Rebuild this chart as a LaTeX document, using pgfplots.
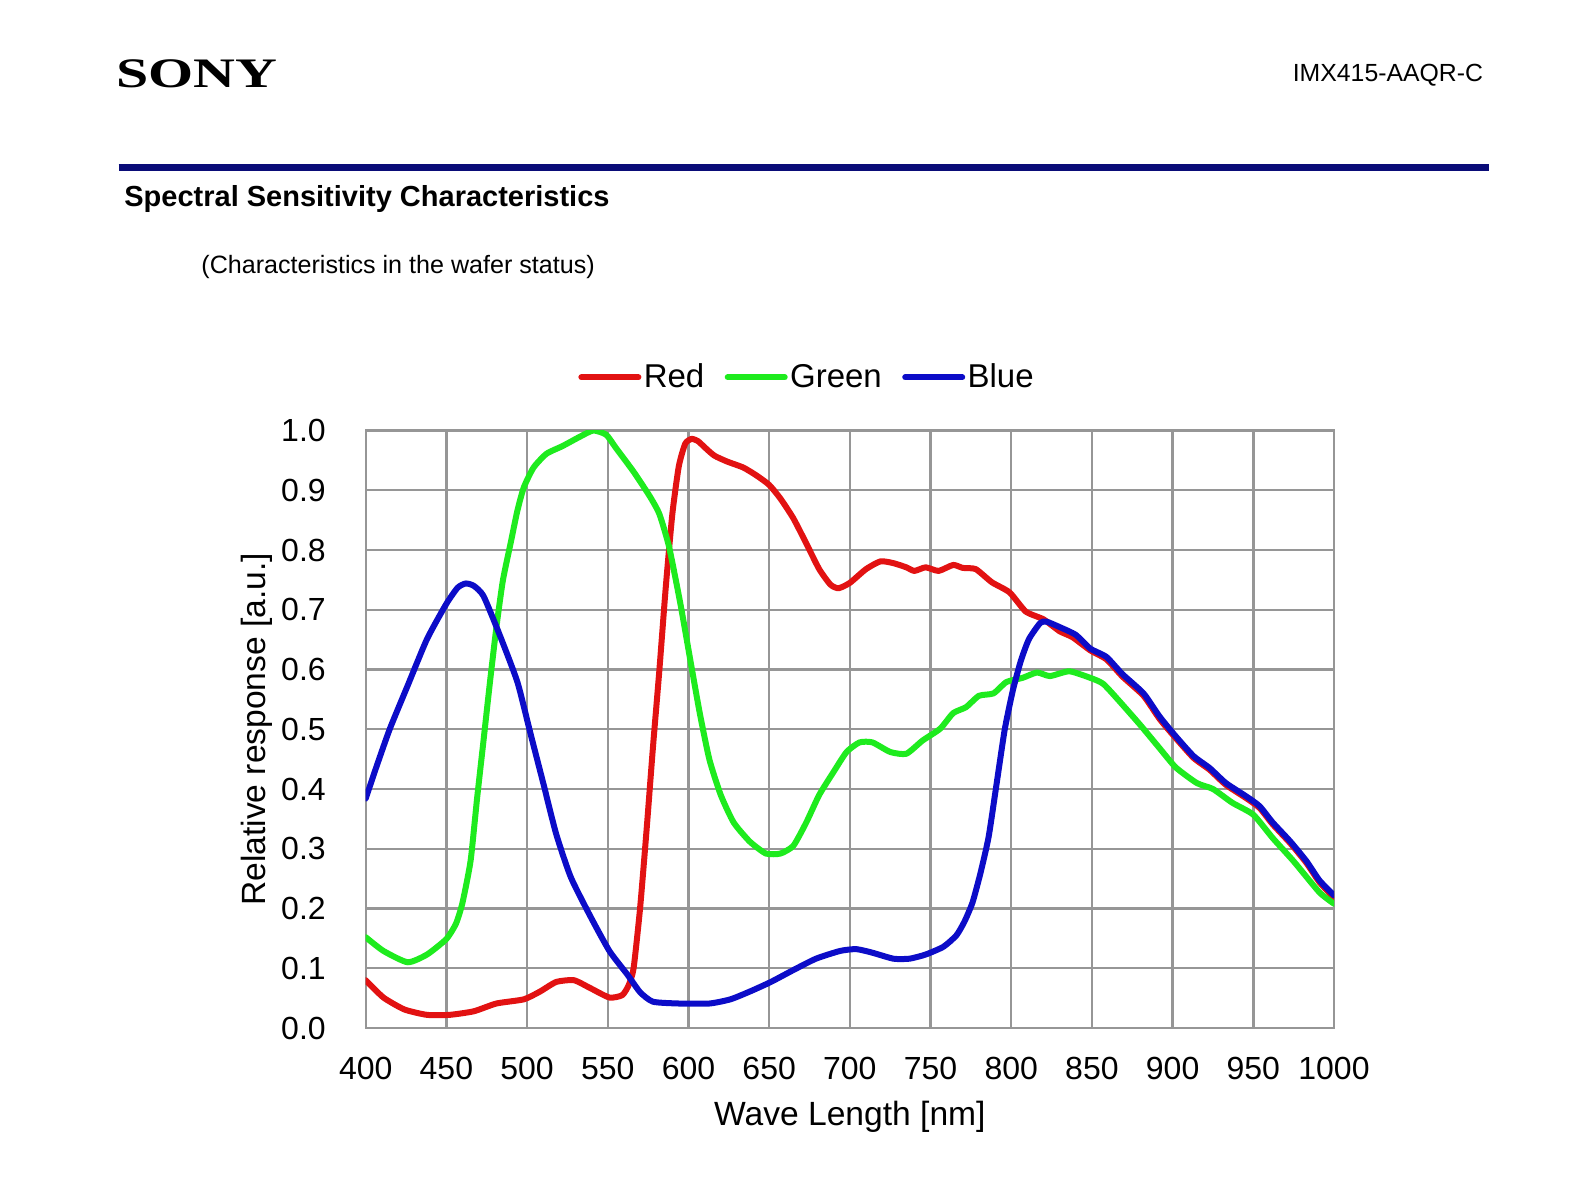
\documentclass[border=0pt]{standalone}
\usepackage{pgfplots}
\pgfplotsset{compat=1.18}
\usepackage{fontspec}
\setmainfont{Liberation Sans}
\newfontfamily\logofont{Liberation Serif}
\usepackage{graphicx}
\definecolor{cRed}{RGB}{226,18,18}
\definecolor{cGreen}{RGB}{30,235,30}
\definecolor{cBlue}{RGB}{12,12,200}
\definecolor{cRule}{RGB}{10,12,120}
\definecolor{cGrid}{RGB}{150,150,150}
\begin{document}
\begin{tikzpicture}
\path[use as bounding box] (0,0) rectangle (795.5pt,-593.5pt);
% header
\node[anchor=base west,inner sep=0pt] at (58pt,-44pt)
  {\scalebox{1.38}[1]{\logofont\bfseries\fontsize{21}{24}\selectfont SONY}};
\node[anchor=base east,inner sep=0pt] at (741.7pt,-41pt)
  {\fontsize{12.4}{14}\selectfont IMX415-AAQR-C};
\draw[cRule,line width=3.5pt] (59.35pt,-83.7pt) -- (744.3pt,-83.7pt);
\node[anchor=base west,inner sep=0pt] at (62pt,-103.3pt)
  {\bfseries\fontsize{14.5}{17}\selectfont Spectral Sensitivity Characteristics};
\node[anchor=base west,inner sep=0pt] at (100.5pt,-136.7pt)
  {\fontsize{12.55}{15}\selectfont (Characteristics in the wafer status)};
\begin{axis}[
  at={(182.85pt,-514pt)}, anchor=south west,
  scale only axis, width=484.15pt, height=298.75pt,
  xmin=400, xmax=1000, ymin=0, ymax=1,
  xtick={400,450,...,1000},
  xticklabels={400,450,500,550,600,650,700,750,800,850,900,950,1000},
  ytick={0,0.1,...,1.0},
  yticklabels={0.0,0.1,0.2,0.3,0.4,0.5,0.6,0.7,0.8,0.9,1.0},
  major tick length=0pt,
  grid=major,
  major grid style={cGrid,line width=1.2pt},
  axis line style={cGrid,line width=1.2pt},
  ticklabel style={font=\fontsize{16}{19}\selectfont},
  xticklabel style={anchor=north,inner sep=0pt,yshift=-14.3pt},
  yticklabel style={anchor=east,inner sep=0pt,xshift=-19.8pt},
  xlabel={Wave Length [nm]},
  ylabel={Relative response [a.u.]},
  label style={font=\fontsize{16.8}{19}\selectfont},
  xlabel style={at={(axis description cs:0.5,-0.149)},anchor=center},
  ylabel style={at={(axis description cs:-0.112,0.5)},anchor=center,rotate=0},
  legend columns=3,
  legend style={at={(axis description cs:0.456,1.089)},anchor=center,draw=none,fill=none,
    font=\fontsize{16.5}{19}\selectfont,
    nodes={inner xsep=1.2pt,inner ysep=1pt},
    /tikz/every even column/.append style={column sep=9pt}},
  legend image code/.code={\draw[#1,line width=3pt] (0pt,0pt) -- (28.5pt,0pt);},
  every axis plot/.append style={line width=3pt,line join=round,line cap=round,smooth,tension=0.35},
]
\addplot[cRed] coordinates {
(400,0.080)(411,0.051)(424,0.031)(438,0.022)(452,0.022)(467,0.028)(481,0.041)
(498,0.048)(508,0.061)(518,0.077)(529,0.080)(539,0.067)(551,0.051)(559,0.055)
(563,0.072)(566,0.10)(570,0.20)(574,0.33)(578,0.47)(582,0.60)(586,0.74)(590,0.86)
(594,0.94)(598,0.978)(602,0.986)(606,0.982)(610,0.972)(616,0.958)(624,0.948)
(634,0.938)(642,0.925)(650,0.909)(657,0.886)(665,0.853)(673,0.811)(681,0.768)
(688,0.742)(693,0.736)(700,0.745)(710,0.768)(719,0.781)(727,0.778)(735,0.771)
(740,0.765)(747,0.771)(755,0.765)(764,0.775)(770,0.770)(778,0.768)(788,0.746)
(799,0.729)(809,0.697)(820,0.684)(830,0.664)(838,0.654)(849,0.632)(859,0.617)
(869,0.588)(882,0.556)(892,0.517)(902,0.485)(913,0.452)(923,0.432)(933,0.407)
(946,0.384)(954,0.368)(962,0.341)(973,0.309)(983,0.276)(991,0.244)(1000,0.218)
};
\addlegendentry{Red}
\addplot[cGreen] coordinates {
(400,0.152)(411,0.129)(426,0.110)(438,0.123)(450,0.149)(456,0.175)(460,0.21)
(465,0.28)(469,0.384)(473,0.481)(477,0.579)(481,0.671)(485,0.749)(490,0.814)
(494,0.866)(498,0.905)(504,0.938)(512,0.961)(522,0.974)(533,0.990)(541,1.000)
(549,0.993)(555,0.971)(566,0.931)(576,0.890)(582,0.860)(588,0.805)(595,0.71)
(601,0.618)(607,0.527)(613,0.449)(620,0.390)(628,0.344)(638,0.312)(648,0.292)
(657,0.292)(665,0.305)(673,0.344)(681,0.390)(690,0.429)(698,0.462)(706,0.478)
(714,0.478)(725,0.462)(735,0.459)(745,0.481)(756,0.501)(764,0.527)(772,0.537)
(780,0.556)(789,0.560)(797,0.579)(807,0.586)(816,0.595)(824,0.589)(836,0.597)
(849,0.586)(857,0.576)(867,0.547)(880,0.507)(892,0.468)(902,0.436)(915,0.410)
(925,0.400)(937,0.377)(950,0.357)(962,0.318)(975,0.279)(991,0.227)(1000,0.208)
};
\addlegendentry{Green}
\addplot[cBlue] coordinates {
(400,0.384)(407,0.44)(415,0.501)(426,0.573)(438,0.651)(450,0.710)(457,0.737)
(462,0.744)(467,0.74)(473,0.723)(483,0.658)(494,0.579)(502,0.494)(510,0.41)
(518,0.325)(527,0.253)(539,0.188)(551,0.129)(562,0.09)(570,0.06)(578,0.044)
(594,0.041)(613,0.041)(626,0.048)(638,0.061)(651,0.077)(665,0.097)(679,0.116)
(694,0.129)(704,0.132)(714,0.126)(727,0.116)(737,0.116)(747,0.123)(758,0.136)
(766,0.155)(771,0.178)(776,0.21)(781,0.26)(786,0.32)(791,0.41)(796,0.50)
(801,0.565)(806,0.615)(811,0.651)(818,0.678)(822,0.680)(830,0.671)(840,0.658)
(849,0.635)(859,0.621)(869,0.592)(882,0.560)(892,0.521)(902,0.488)(913,0.455)
(923,0.435)(933,0.410)(946,0.387)(954,0.371)(962,0.344)(973,0.312)(983,0.279)
(991,0.247)(1000,0.222)
};
\addlegendentry{Blue}
\end{axis}
\end{tikzpicture}
\end{document}
